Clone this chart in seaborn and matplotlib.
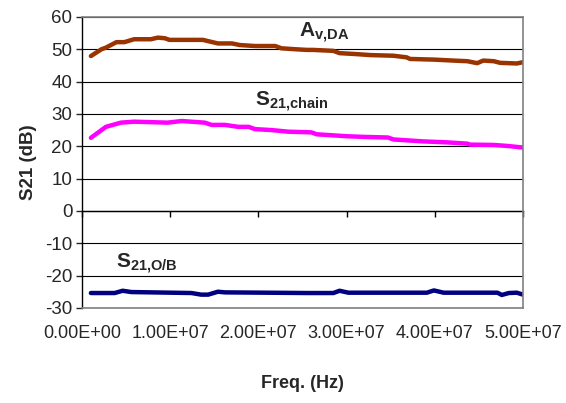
import numpy as np
import pandas as pd
import matplotlib
matplotlib.use('Agg')
import matplotlib.pyplot as plt
from matplotlib.ticker import FuncFormatter, MultipleLocator
import seaborn as sns

# ── Data ──────────────────────────────────────────────────────────────────
# frequencies in MHz, gains in dB
av_freq = [1, 2.2, 2.7, 3.9, 4.8, 5.9, 7.8, 8.6, 9.4, 9.9, 13.7, 15.4, 17.0, 17.9,
           19.6, 21.9, 22.6, 24.2, 25.5, 26.2, 28.5, 29.2, 31.1, 32.7, 35.3, 36.8,
           37.2, 39.9, 42.1, 43.7, 44.8, 45.5, 46.7, 47.4, 49.3, 50]
av_gain = [47.9, 50.0, 50.5, 52.2, 52.2, 53.1, 53.1, 53.6, 53.4, 52.9, 52.9, 51.8,
           51.8, 51.3, 51.0, 51.0, 50.3, 50.0, 49.8, 49.8, 49.5, 48.8, 48.5, 48.2,
           48.0, 47.5, 47.0, 46.8, 46.5, 46.3, 45.7, 46.5, 46.3, 45.8, 45.6, 46.0]

chain_freq = [1, 2.7, 4.4, 5.9, 9.7, 11.3, 13.9, 14.7, 16.2, 17.7, 18.9, 19.6, 21.5,
              23.4, 26.0, 26.6, 30.0, 31.9, 34.7, 35.3, 38.7, 41.4, 43.7, 44.0, 46.7,
              48.2, 50]
chain_gain = [22.6, 26.0, 27.3, 27.6, 27.3, 27.8, 27.3, 26.6, 26.6, 26.0, 26.0, 25.3,
              25.0, 24.5, 24.3, 23.7, 23.1, 22.9, 22.7, 22.1, 21.5, 21.2, 20.8, 20.5,
              20.4, 20.1, 19.6]

ob_freq = [1, 3.7, 4.6, 5.6, 12.4, 13.5, 14.3, 15.4, 16.2, 25.5, 28.5, 29.2, 30.2,
           39.1, 39.9, 41.0, 47.1, 47.6, 48.4, 49.3, 50]
ob_gain = [-25.4, -25.4, -24.7, -25.1, -25.4, -25.9, -25.9, -25.0, -25.2, -25.4,
           -25.4, -24.7, -25.3, -25.3, -24.6, -25.3, -25.3, -26.0, -25.4, -25.3, -25.9]

series_names = ['Av,DA', 'S21,chain', 'S21,O/B']
series_colors = ['#993300', '#FF00FF', '#000080']

df = pd.concat([
    pd.DataFrame({'freq': np.array(f) * 1e6, 'gain': g, 'series': name})
    for f, g, name in zip([av_freq, chain_freq, ob_freq],
                          [av_gain, chain_gain, ob_gain], series_names)
])

# ── Style ─────────────────────────────────────────────────────────────────
sns.set_style('white')
plt.rcParams.update({
    'font.family': ['Liberation Sans', 'DejaVu Sans'],
    'mathtext.fontset': 'custom',
    'mathtext.rm': 'Liberation Sans',
    'mathtext.bf': 'Liberation Sans:bold',
    'axes.unicode_minus': False,
})

fig = plt.figure(figsize=(5.66, 4.03), dpi=100)
ax = fig.add_axes([0.145, 0.236, 0.779, 0.722])

sns.lineplot(data=df, x='freq', y='gain', hue='series', palette=series_colors,
             hue_order=series_names, sort=False, estimator=None, legend=False,
             lw=3.2, ax=ax, solid_joinstyle='round', solid_capstyle='round')

ax.set_xlim(0, 5e7)
ax.set_ylim(-30, 60)
ax.yaxis.set_major_locator(MultipleLocator(10))
ax.xaxis.set_major_locator(MultipleLocator(1e7))
ax.xaxis.set_major_formatter(FuncFormatter(lambda v, p: f'{v:.2E}'))

ax.grid(axis='y', color='black', lw=0.8)
ax.grid(axis='x', visible=False)
ax.set_axisbelow(True)
for side in ['top', 'right', 'bottom']:
    ax.spines[side].set_color('#808080')
    ax.spines[side].set_linewidth(1.2)
ax.spines['left'].set_color('black')
ax.spines['left'].set_linewidth(1.0)

ax.tick_params(axis='y', left=True, direction='out', length=4, width=1,
               labelsize=13.5, pad=3)
ax.tick_params(axis='x', bottom=False, length=0, labelsize=13, pad=12)

# x axis crosses at 0 dB with outward ticks
sec = ax.secondary_xaxis(1 / 3)
sec.xaxis.set_major_locator(MultipleLocator(1e7))
sec.tick_params(direction='out', length=4, width=1, labelbottom=False,
                color='black')
sec.spines['bottom'].set_color('black')
sec.spines['bottom'].set_linewidth(1.0)

ax.set_xlabel('Freq. (Hz)', fontsize=13, fontweight='bold', labelpad=24)
ax.set_ylabel('S21 (dB)', fontsize=13.5, fontweight='bold', labelpad=6)

ax.text(24.6e6, 53.8, r'$\mathbf{A}_{\mathbf{v{,}DA}}$', fontsize=15, ha='left',
        va='baseline')
ax.text(19.6e6, 32.5, r'$\mathbf{S}_{\mathbf{21{,}chain}}$', fontsize=15, ha='left',
        va='baseline')
ax.text(3.8e6, -17.6, r'$\mathbf{S}_{\mathbf{21{,}O/B}}$', fontsize=15, ha='left',
        va='baseline')

fig.savefig('out.png', dpi=100, facecolor='white')
